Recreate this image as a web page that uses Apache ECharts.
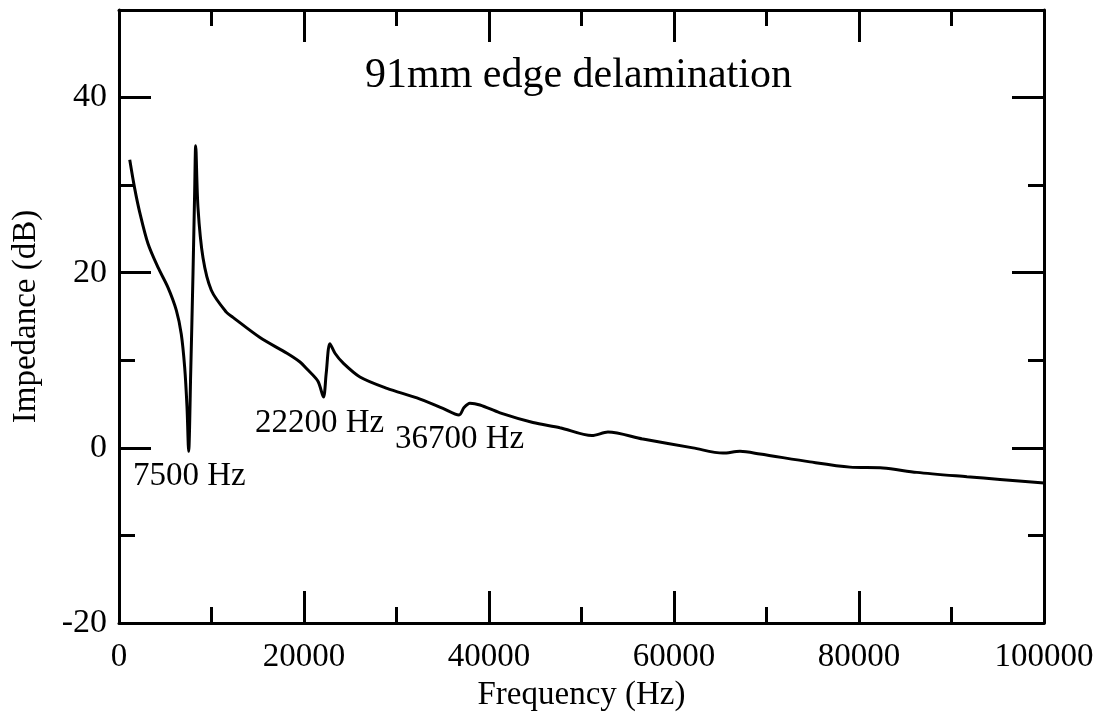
<!DOCTYPE html>
<html>
<head>
<meta charset="utf-8">
<script src="https://cdn.jsdelivr.net/npm/echarts@6/dist/echarts.min.js"></script>
<style>
  html, body { margin: 0; padding: 0; background: #fff; }
  #container { width: 1105px; height: 718px; }
</style>
</head>
<body>
<div id="container"></div>
<script>
// 频率 (Hz) 与阻抗 (dB)
var freqHz = [1160, 1700, 2240, 3140, 4220, 5300, 6200, 6730, 7100, 7350,
    7530, 7750, 8000, 8180, 8290, 8540, 9080, 9980, 11600, 12320,
    15240, 18160, 19570, 20320, 21510, 22100, 22400, 22800, 23350, 24220,
    26050, 28970, 32210, 35020, 36760, 37300, 37940, 39020, 41190, 44750,
    47670, 51130, 52860, 56640, 62050, 65290, 67130, 69290, 74700, 79020,
    82590, 86260, 91670, 95240, 100000];
var impedanceDb = [32.9, 29.6, 26.9, 23.3, 20.6, 18.3, 15.7, 13.0, 9.2, 4.7,
    -0.4, 8.5, 19.9, 29.3, 34.5, 27.4, 21.7, 18.0, 15.5, 14.9,
    12.6, 10.8, 9.8, 9.0, 7.6, 5.8, 8.5, 11.9, 10.8, 9.7,
    8.1, 6.8, 5.7, 4.5, 3.75, 4.6, 5.1, 4.9, 4.0, 2.9,
    2.3, 1.4, 1.8, 1.0, 0.0, -0.6, -0.4, -0.7, -1.6, -2.2,
    -2.3, -2.8, -3.3, -3.6, -4.0];

// 标注文字
var noteText = ['7500 Hz', '22200 Hz', '36700 Hz'];
var noteFreq = [1510, 14700, 29840];
var noteImp = [-3.3, 2.85, 1.0];

var titleText = '91mm edge delamination';

var serif = "'Liberation Serif', 'Times New Roman', serif";

var dom = document.getElementById('container');
var myChart = echarts.init(dom);

var lineData = freqHz.map(function (f, i) { return [f, impedanceDb[i]]; });
var noteData = noteText.map(function (t, i) { return { value: [noteFreq[i], noteImp[i]], name: t }; });

// 四周的坐标轴样式
function frameAxis(extra) {
    var base = {
        type: 'value',
        axisLine: { show: true, onZero: false, lineStyle: { color: '#000', width: 3 } },
        axisTick: { show: true, inside: true, length: 32, lineStyle: { color: '#000', width: 3 } },
        minorTick: { show: true, splitNumber: 2, length: 16, lineStyle: { color: '#000', width: 3 } },
        splitLine: { show: false },
        axisLabel: { show: false }
    };
    return Object.assign(base, extra);
}

var option = {
    animation: false,
    backgroundColor: '#fff',
    title: {
        text: titleText,
        left: 360,
        top: 50,
        textStyle: { fontFamily: serif, fontSize: 42, fontWeight: 'normal', color: '#000' }
    },
    grid: { left: 119, right: 61, top: 10, bottom: 95, containLabel: false },
    xAxis: [
        frameAxis({
            position: 'bottom', min: 0, max: 100000, interval: 20000,
            name: 'Frequency (Hz)', nameLocation: 'middle', nameGap: 50,
            nameTextStyle: { fontFamily: serif, fontSize: 33, color: '#000' },
            axisLabel: {
                show: true, margin: 18, fontFamily: serif, fontSize: 33, color: '#000',
                formatter: function (v) { return String(v); }
            }
        }),
        frameAxis({ position: 'top', min: 0, max: 100000, interval: 20000 })
    ],
    yAxis: [
        frameAxis({
            position: 'left', min: -20, max: 50, interval: 20,
            name: 'Impedance (dB)', nameLocation: 'middle', nameGap: 76, nameRotate: 90,
            nameTextStyle: { fontFamily: serif, fontSize: 33, color: '#000' },
            axisLabel: {
                show: true, margin: 12, fontFamily: serif, fontSize: 34, color: '#000',
                formatter: function (v) { return v > 40 ? '' : String(v); }
            }
        }),
        frameAxis({ position: 'right', min: -20, max: 50, interval: 20 })
    ],
    series: [
        {
            type: 'line',
            data: lineData,
            showSymbol: false,
            smooth: 0.3,
            lineStyle: { color: '#000', width: 3 },
            z: 3
        },
        {
            type: 'scatter',
            data: noteData,
            symbolSize: 0,
            itemStyle: { opacity: 1 },
            label: {
                show: true,
                position: 'right',
                distance: 0,
                formatter: '{b}',
                fontFamily: serif,
                fontSize: 33,
                color: '#000',
                opacity: 1
            },
            z: 4
        }
    ]
};

myChart.setOption(option, true);
</script>
</body>
</html>
